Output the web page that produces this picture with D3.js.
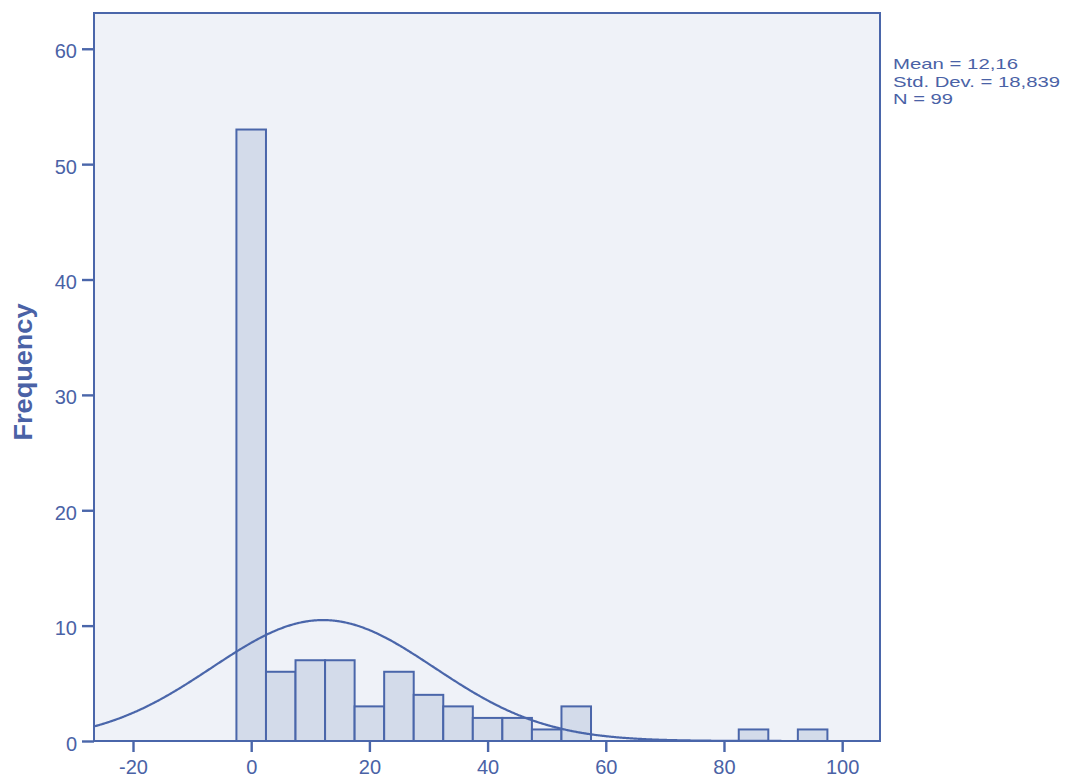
<!DOCTYPE html>
<html>
<head>
<meta charset="utf-8">
<script src="https://cdn.jsdelivr.net/npm/d3@7"></script>
<style>
  html, body { margin: 0; padding: 0; background: #ffffff; }
  svg { display: block; }
  text { font-family: Arial, "Liberation Sans", sans-serif; fill: #4a62a6; }
</style>
</head>
<body>
<svg id="chart" width="1072" height="781"></svg>
<script>
// Histogram bins (lower edge, upper edge) and their counts
const binStarts = [-2.5, 2.5, 7.5, 12.5, 17.5, 22.5, 27.5, 32.5, 37.5, 42.5, 47.5, 52.5, 82.5, 92.5];
const binEnds   = [2.5, 7.5, 12.5, 17.5, 22.5, 27.5, 32.5, 37.5, 42.5, 47.5, 52.5, 57.5, 87.5, 97.5];
const counts    = [53, 6, 7, 7, 3, 6, 4, 3, 2, 2, 1, 3, 1, 1];

// Summary statistics shown beside the plot
const meanValue = 12.16;
const stdDev = 18.839;
const nCases = 99;
const binWidth = 5;
const statLines = ["Mean = 12,16", "Std. Dev. = 18,839", "N = 99"];

const xTicks = [-20, 0, 20, 40, 60, 80, 100];
const yTicks = [0, 10, 20, 30, 40, 50, 60];

const svg = d3.select("#chart");
const frame = { left: 94, top: 13, right: 880, bottom: 741 };
const ink = "#4a66aa";

const x = d3.scaleLinear().domain([-26.6, 106.4]).range([frame.left, frame.right]);
const y = d3.scaleLinear().domain([0, 63.1]).range([frame.bottom, frame.top]);

// Plot background
svg.append("rect")
  .attr("x", frame.left).attr("y", frame.top)
  .attr("width", frame.right - frame.left).attr("height", frame.bottom - frame.top)
  .attr("fill", "#eff2f8");

svg.append("defs").append("clipPath").attr("id", "plotClip")
  .append("rect")
  .attr("x", frame.left).attr("y", frame.top)
  .attr("width", frame.right - frame.left).attr("height", frame.bottom - frame.top);

// Bars
const bins = counts.map((c, i) => ({ x0: binStarts[i], x1: binEnds[i], n: c }));
svg.append("g").selectAll("rect").data(bins).join("rect")
  .attr("x", d => x(d.x0))
  .attr("y", d => y(d.n))
  .attr("width", d => x(d.x1) - x(d.x0))
  .attr("height", d => y(0) - y(d.n))
  .attr("fill", "#d3dbea")
  .attr("stroke", ink)
  .attr("stroke-width", 2);

// Normal curve scaled to counts
const scale = nCases * binWidth / (stdDev * Math.sqrt(2 * Math.PI));
const curvePts = d3.range(-26.6, 106.5, 0.25).map(v => [v, scale * Math.exp(-0.5 * ((v - meanValue) / stdDev) ** 2)]);
svg.append("path")
  .datum(curvePts)
  .attr("clip-path", "url(#plotClip)")
  .attr("fill", "none")
  .attr("stroke", ink)
  .attr("stroke-width", 2.2)
  .attr("d", d3.line().x(d => x(d[0])).y(d => y(d[1])).curve(d3.curveBasis));

// Frame
svg.append("rect")
  .attr("x", frame.left).attr("y", frame.top)
  .attr("width", frame.right - frame.left).attr("height", frame.bottom - frame.top)
  .attr("fill", "none").attr("stroke", ink).attr("stroke-width", 2);

// Axes
const plainFormat = d => String(d);
const xAxis = svg.append("g")
  .attr("transform", `translate(0,${frame.bottom})`)
  .call(d3.axisBottom(x).tickValues(xTicks).tickSize(11).tickPadding(8).tickFormat(plainFormat));
const yAxis = svg.append("g")
  .attr("transform", `translate(${frame.left},0)`)
  .call(d3.axisLeft(y).tickValues(yTicks).tickSize(12).tickPadding(5).tickFormat(plainFormat));

[xAxis, yAxis].forEach(g => {
  g.select(".domain").remove();
  g.selectAll(".tick line").attr("stroke", ink).attr("stroke-width", 2.4);
  g.selectAll(".tick text")
    .attr("fill", "#4a62a6")
    .style("font-size", "20px")
    .style("font-family", "Arial, 'Liberation Sans', sans-serif");
});
yAxis.selectAll(".tick text").attr("dy", "0.45em");

// Y axis title
svg.append("text")
  .attr("transform", `translate(32,372) rotate(-90)`)
  .attr("text-anchor", "middle")
  .attr("textLength", 137)
  .attr("lengthAdjust", "spacingAndGlyphs")
  .style("font-size", "25px")
  .style("font-weight", "bold")
  .attr("fill", "#3f5aa2")
  .text("Frequency");

// Statistics block, stretched to a wide, tightly stacked layout
const statWidths = [125, 167, 60];
svg.append("g").selectAll("text").data(statLines).join("text")
  .attr("x", 893)
  .attr("y", (d, i) => 69 + i * 17.5)
  .attr("textLength", (d, i) => statWidths[i])
  .attr("lengthAdjust", "spacingAndGlyphs")
  .style("font-size", "15px")
  .text(d => d);
</script>
</body>
</html>
